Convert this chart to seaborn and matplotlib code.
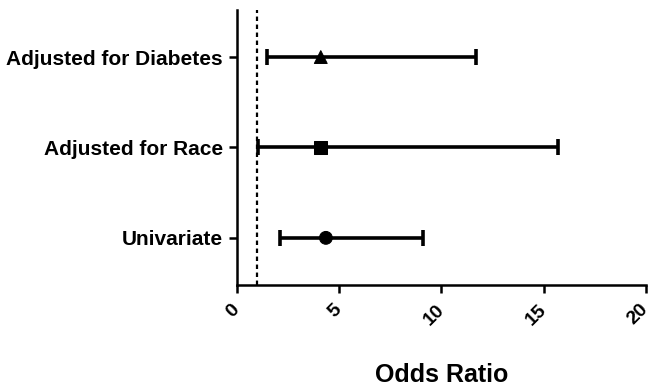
import matplotlib
matplotlib.use("Agg")
import matplotlib.pyplot as plt
import seaborn as sns
import numpy as np
import pandas as pd

labels = ["Adjusted for Diabetes", "Adjusted for Race", "Univariate"]
odds = [4.1, 4.1, 4.35]
lower = [1.45, 1.05, 2.1]
upper = [11.7, 15.7, 9.1]
markers = ["^", "s", "o"]
x_ticks = [0, 5, 10, 15, 20]

sns.set_theme(style="ticks")
plt.rcParams["font.family"] = ["Liberation Sans", "DejaVu Sans"]
plt.rcParams["font.weight"] = "bold"
plt.rcParams["text.color"] = "black"
plt.rcParams["axes.labelcolor"] = "black"

df = pd.DataFrame({"label": labels, "odds": odds, "lower": lower, "upper": upper,
                   "pos": np.arange(len(labels))})

fig = plt.figure(figsize=(6.51, 3.86), dpi=100)
ax = fig.add_axes([0.364, 0.262, 0.628, 0.712])

ax.axvline(1, color="black", lw=1.6, ls=(0, (2, 1.6)), zorder=1)

xerr = np.vstack([df["odds"] - df["lower"], df["upper"] - df["odds"]])
ax.errorbar(df["odds"], df["pos"], xerr=xerr, fmt="none", ecolor="black",
            elinewidth=2.6, capsize=5.5, capthick=2.6, zorder=2)

sns.scatterplot(data=df, x="odds", y="pos", style="label",
                markers=dict(zip(labels, markers)), color="black",
                s=85, edgecolor="black", legend=False, ax=ax, zorder=3)

ax.set_xlim(0, 20)
ax.set_ylim(2.52, -0.52)
ax.set_xticks(x_ticks)
ax.set_xticklabels([str(t) for t in x_ticks], rotation=45, ha="right",
                   va="center", rotation_mode="anchor", fontsize=14, fontweight="bold")
ax.set_yticks(df["pos"])
ax.set_yticklabels(labels, fontsize=15, fontweight="bold")
ax.set_xlabel("Odds Ratio", fontsize=18, fontweight="bold", labelpad=25, color="black")
ax.set_ylabel("")

for side in ["top", "right"]:
    ax.spines[side].set_visible(False)
for side in ["left", "bottom"]:
    ax.spines[side].set_linewidth(1.8)
    ax.spines[side].set_color("black")
ax.tick_params(axis="both", direction="out", length=6, width=1.8, color="black",
               labelcolor="black", pad=4)
ax.tick_params(axis="x", pad=10)

fig.savefig("out.png", dpi=100)
